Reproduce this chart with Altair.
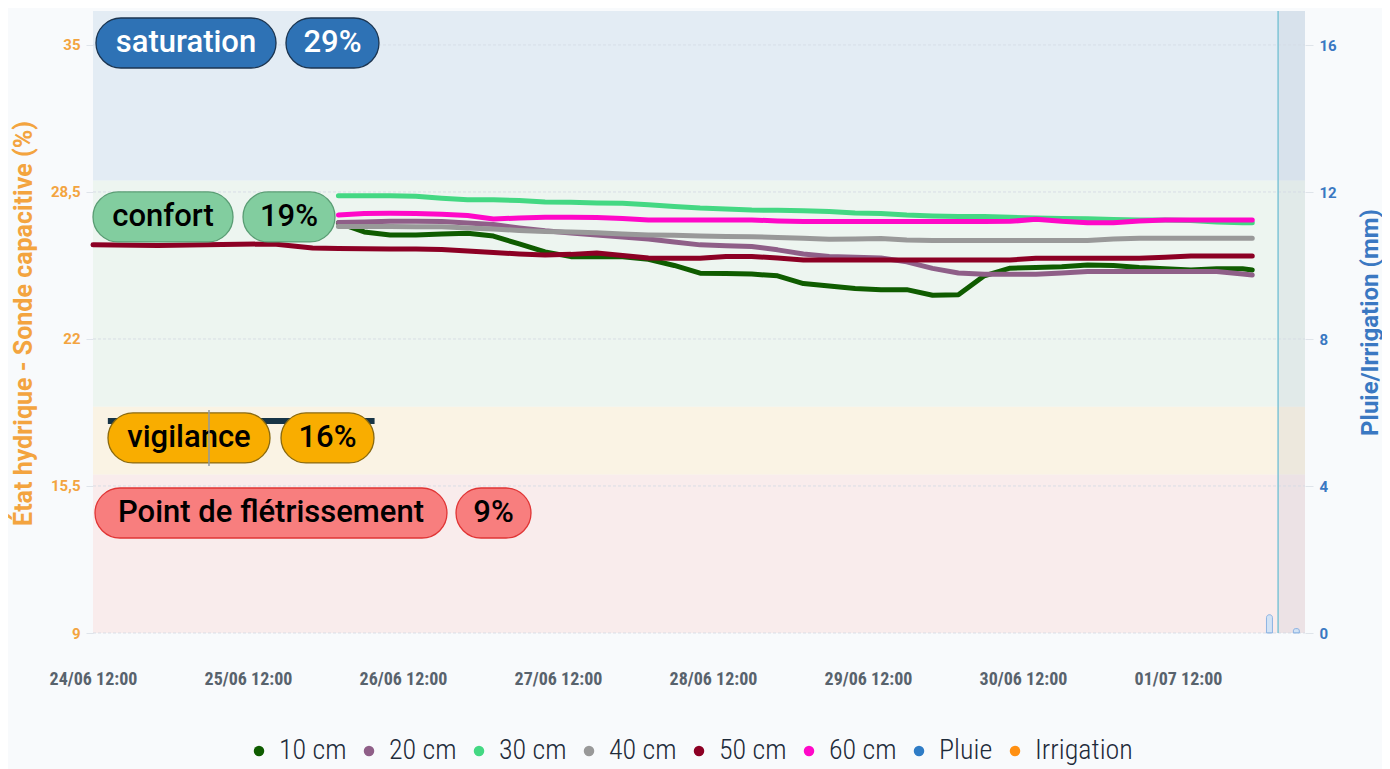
import altair as alt
import pandas as pd

# ---------------- data ----------------
T0 = "2024-06-24 12:00"
T_END = "2024-07-02 07:40"
x_ticks = ["2024-06-24 12:00", "2024-06-25 12:00", "2024-06-26 12:00", "2024-06-27 12:00",
           "2024-06-28 12:00", "2024-06-29 12:00", "2024-06-30 12:00", "2024-07-01 12:00"]
y_left_ticks = [9, 15.5, 22, 28.5, 35]
y_right_ticks = [0, 4, 8, 12, 16]
Y_LEFT = [9, 36.5]
Y_RIGHT = [0, 16.93]

series_names = ["10 cm", "20 cm", "30 cm", "40 cm", "50 cm", "60 cm", "Pluie", "Irrigation"]
series_colors = ["#0f5c00", "#8f5f88", "#44d883", "#999999", "#8c0024", "#ff08c8", "#2f7cc6", "#ff9012"]

grid_times = list(pd.date_range("2024-06-26 02:00", "2024-07-01 22:00", freq="4h")) + [pd.Timestamp("2024-07-01 23:30")]
early_times = ["2024-06-24 12:00", "2024-06-24 22:00", "2024-06-25 08:00", "2024-06-25 16:00", "2024-06-25 22:00"]

v10 = [27.13, 26.73, 26.60, 26.60, 26.64, 26.67, 26.55, 26.20, 25.85, 25.64,
       25.64, 25.63, 25.52, 25.25, 24.91, 24.89, 24.87, 24.79, 24.45, 24.34,
       24.23, 24.18, 24.18, 23.93, 23.95, 24.79, 25.13, 25.16, 25.19, 25.27,
       25.25, 25.16, 25.10, 25.05, 25.10, 25.10, 25.05]
v20 = [27.15, 27.17, 27.20, 27.20, 27.19, 27.13, 27.06, 26.91, 26.78, 26.69,
       26.60, 26.51, 26.42, 26.29, 26.16, 26.12, 26.09, 25.94, 25.76, 25.65,
       25.61, 25.58, 25.41, 25.12, 24.92, 24.86, 24.86, 24.86, 24.92, 24.98,
       24.98, 24.98, 24.98, 24.98, 24.98, 24.87, 24.83]
v30 = [28.33, 28.33, 28.33, 28.31, 28.22, 28.15, 28.15, 28.12, 28.06, 28.04,
       28.01, 28.00, 27.93, 27.86, 27.79, 27.75, 27.70, 27.69, 27.67, 27.63,
       27.57, 27.55, 27.48, 27.44, 27.41, 27.41, 27.38, 27.35, 27.33, 27.31,
       27.28, 27.26, 27.26, 27.24, 27.17, 27.14, 27.14]
v40 = [26.97, 26.97, 26.97, 26.96, 26.96, 26.91, 26.86, 26.80, 26.75, 26.73,
       26.70, 26.64, 26.60, 26.58, 26.55, 26.53, 26.52, 26.49, 26.45, 26.41,
       26.42, 26.44, 26.38, 26.35, 26.35, 26.35, 26.35, 26.35, 26.35, 26.35,
       26.42, 26.45, 26.45, 26.45, 26.45, 26.45, 26.45]
v50_early = [26.16, 26.13, 26.18, 26.20, 26.02]
v50 = [26.00, 25.99, 25.98, 25.98, 25.96, 25.89, 25.82, 25.76, 25.71, 25.74,
       25.80, 25.69, 25.58, 25.57, 25.57, 25.65, 25.65, 25.58, 25.49, 25.49,
       25.49, 25.49, 25.49, 25.49, 25.49, 25.49, 25.49, 25.57, 25.57, 25.57,
       25.57, 25.57, 25.61, 25.67, 25.67, 25.67, 25.67]
v60 = [27.48, 27.55, 27.56, 27.55, 27.51, 27.46, 27.30, 27.35, 27.38, 27.38,
       27.37, 27.33, 27.26, 27.26, 27.26, 27.26, 27.26, 27.22, 27.19, 27.19,
       27.19, 27.19, 27.19, 27.19, 27.19, 27.19, 27.20, 27.29, 27.20, 27.14,
       27.14, 27.22, 27.26, 27.26, 27.26, 27.26, 27.26]

rain_times = ["2024-07-02 02:10", "2024-07-02 06:20"]
rain_mm = [0.5, 0.12]
now_time = "2024-07-02 03:30"

band_lo = [29, 19, 16, 9]
band_hi = [36.5, 29, 19, 16]
band_colors = ["#e3ecf4", "#edf5f0", "#faf3e4", "#f9ecec"]

pill_labels = ["saturation", "29%", "confort", "19%", "vigilance", "16%", "Point de flétrissement", "9%"]
pill_start_h = [0.46, 29.88, 0.0, 23.23, 2.32, 29.11, 0.31, 56.21]
pill_end_h = [28.34, 44.28, 21.68, 37.47, 27.41, 43.51, 54.81, 67.82]
pill_lo = [33.98, 33.98, 26.29, 26.29, 16.52, 16.52, 13.20, 13.20]
pill_hi = [36.19, 36.19, 28.50, 28.50, 18.73, 18.73, 15.41, 15.41]
pill_fill = ["#2e72b5", "#2e72b5", "#82cd9f", "#82cd9f", "#f9ad00", "#f9ad00", "#f87e7e", "#f87e7e"]
pill_stroke = ["#1c3550", "#1c3550", "#5a9d74", "#5a9d74", "#8a6a10", "#8a6a10", "#e03535", "#e03535"]
pill_text = ["#ffffff", "#ffffff", "#000000", "#000000", "#000000", "#000000", "#000000", "#000000"]

# odd artefacts under the vigilance pills
bar_start_h, bar_end_h, bar_value = 2.3, 43.6, 18.37
vtick_h, vtick_lo, vtick_hi = 17.96, 16.38, 18.86

# ---------------- tables ----------------
t0 = pd.Timestamp(T0)
def at_hours(h):
    return t0 + pd.to_timedelta(h, unit="h")

def dt(s):
    ts = pd.Timestamp(s)
    return alt.DateTime(year=ts.year, month=ts.month, date=ts.day, hours=ts.hour, minutes=ts.minute)

rows = []
for name, vals in zip(series_names[:6], [v10, v20, v30, v40, v50, v60]):
    if name == "50 cm":
        for t, v in zip(early_times, v50_early):
            rows.append({"t": pd.Timestamp(t), "v": v, "serie": name})
    for t, v in zip(grid_times, vals):
        rows.append({"t": t, "v": v, "serie": name})
lines_df = pd.DataFrame(rows)

bands_df = pd.DataFrame({"t0": [pd.Timestamp(T0)] * 4, "t1": [pd.Timestamp(T_END)] * 4,
                         "lo": band_lo, "hi": band_hi, "color": band_colors})
future_df = pd.DataFrame({"t0": [pd.Timestamp(now_time)], "t1": [pd.Timestamp(T_END)],
                          "lo": [Y_LEFT[0]], "hi": [Y_LEFT[1]]})
grid_df = pd.DataFrame({"t0": [pd.Timestamp(T0)] * 5, "t1": [pd.Timestamp(T_END)] * 5, "v": y_left_ticks})
pill_df = pd.DataFrame({
    "t0": [at_hours(h) for h in pill_start_h], "t1": [at_hours(h) for h in pill_end_h],
    "tm": [at_hours((a + b) / 2) for a, b in zip(pill_start_h, pill_end_h)],
    "lo": pill_lo, "hi": pill_hi, "vm": [(a + b) / 2 for a, b in zip(pill_lo, pill_hi)],
    "label": pill_labels, "fill": pill_fill, "stroke": pill_stroke, "tcolor": pill_text})
darkbar_df = pd.DataFrame({"t0": [at_hours(bar_start_h)], "t1": [at_hours(bar_end_h)], "v": [bar_value]})
vtick_df = pd.DataFrame({"t": [at_hours(vtick_h)], "lo": [vtick_lo], "hi": [vtick_hi]})
now_df = pd.DataFrame({"t": [pd.Timestamp(now_time)] * 2, "v": Y_LEFT})
rain_df = pd.DataFrame({"t": [pd.Timestamp(t) for t in rain_times], "mm": rain_mm})
legend_df = pd.DataFrame({"t": [pd.Timestamp(T0)] * 8, "v": [0] * 8, "serie": series_names})

# ---------------- scales / axes ----------------
xs = alt.Scale(domain=[dt(T0), dt(T_END)], nice=False, padding=0)
ys = alt.Scale(domain=Y_LEFT, nice=False, zero=False)
yr = alt.Scale(domain=Y_RIGHT, nice=False, zero=False)
cs = alt.Scale(domain=series_names, range=series_colors)

COND = "Roboto Condensed, Liberation Sans Narrow, Roboto"
ORANGE = "#f3a43f"
BLUE = "#3a78c2"

x_axis = alt.Axis(values=[dt(s) for s in x_ticks], format="%d/%m %H:%M", labelFont=COND,
                  labelFontSize=18, labelFontWeight="bold", labelColor="#58636d",
                  labelPadding=37, ticks=False, tickSize=0, domain=False, grid=False,
                  labelFlush=False, labelOverlap=False, title=None)
y_axis = alt.Axis(values=y_left_ticks, format=".1~f", labelExpr="replace(datum.label, '.', ',')",
                  labelFont="Roboto", labelFontSize=15, labelFontWeight="bold", labelColor=ORANGE,
                  tickColor="#dfe4ea", tickSize=7, labelPadding=6, domain=False, grid=False,
                  title="État hydrique - Sonde capacitive (%)", titleColor=ORANGE, titleFont="Roboto",
                  titleFontSize=25, titleFontWeight="bold", titleX=-70, titleY=312, titleAngle=270,
                  titleBaseline="middle", titleAlign="center")
r_axis = alt.Axis(orient="right", values=y_right_ticks, labelFont="Roboto", labelFontSize=15,
                  labelFontWeight="bold", labelColor=BLUE, tickColor="#dfe4ea", tickSize=8,
                  labelPadding=6, domain=False, grid=False, title="Pluie/Irrigation (mm)",
                  titleColor=BLUE, titleFont="Roboto", titleFontSize=24, titleFontWeight="bold",
                  titleX=65, titleY=311, titleAngle=270, titleBaseline="middle", titleAlign="center")
legend = alt.Legend(
    title=None, orient="none", legendX=152, legendY=726, direction="horizontal",
    symbolType="circle", symbolSize=110, symbolStrokeWidth=0, labelFont=COND,
    labelFontSize=28, labelFontWeight=300, labelColor="#1e2b3a",
    columnPadding=8, labelOffset=6, columns=8)

X = lambda f: alt.X(f, scale=xs, axis=x_axis)
Y = lambda f: alt.Y(f, scale=ys, axis=y_axis)

# ---------------- layers ----------------
legend_layer = alt.Chart(legend_df).transform_filter("datum.v > 1000").mark_circle(opacity=1).encode(
    x=X("t:T"), y=Y("v:Q"), color=alt.Color("serie:N", scale=cs, legend=legend))

bands = alt.Chart(bands_df).mark_rect().encode(
    x=X("t0:T"), x2="t1:T", y=Y("lo:Q"), y2="hi:Q",
    fill=alt.Fill("color:N", scale=None))

future = alt.Chart(future_df).mark_rect(fill="#4a6a8a", opacity=0.07).encode(
    x=X("t0:T"), x2="t1:T", y=Y("lo:Q"), y2="hi:Q")

grid = alt.Chart(grid_df).mark_rule(color="#d3dae3", strokeDash=[3, 2], strokeWidth=1, opacity=0.8).encode(
    x=X("t0:T"), x2="t1:T", y=Y("v:Q"))

darkbar = alt.Chart(darkbar_df).mark_rule(color="#173446", strokeWidth=6).encode(
    x=X("t0:T"), x2="t1:T", y=Y("v:Q"))

lines = alt.Chart(lines_df).mark_line(strokeWidth=5, strokeCap="round", strokeJoin="round").encode(
    x=X("t:T"), y=Y("v:Q"),
    color=alt.Color("serie:N", scale=cs, legend=legend),
    order=alt.Order("t:T"))

pills = alt.Chart(pill_df).mark_rect(cornerRadius=25, strokeWidth=1.3).encode(
    x=X("t0:T"), x2="t1:T", y=Y("lo:Q"), y2="hi:Q",
    fill=alt.Fill("fill:N", scale=None), stroke=alt.Stroke("stroke:N", scale=None))

texts = alt.Chart(pill_df).mark_text(font="Roboto", fontSize=31, fontWeight=500,
                                     align="center", baseline="middle").encode(
    x=X("tm:T"), y=Y("vm:Q"), text="label:N", fill=alt.Fill("tcolor:N", scale=None))

vtick = alt.Chart(vtick_df).mark_rule(color="#8e9aa3", strokeWidth=1.5).encode(
    x=X("t:T"), y=Y("lo:Q"), y2="hi:Q")

nowline = alt.Chart(now_df).mark_line(color="#7ec4d6", strokeWidth=1.5).encode(
    x=X("t:T"), y=Y("v:Q"))

left = alt.layer(legend_layer, bands, future, grid, darkbar, lines, pills, texts, vtick, nowline)

rain = alt.Chart(rain_df).mark_bar(size=6, cornerRadiusTopLeft=3, cornerRadiusTopRight=3,
                                   fill="#d2e3f5", stroke="#8fb5e3", strokeWidth=1).encode(
    x=X("t:T"), y=alt.Y("mm:Q", scale=yr, axis=r_axis))

chart = alt.layer(left, rain).resolve_scale(y="independent").properties(
    width=1212, height=622,
    padding={"left": 85, "top": 3, "right": 77, "bottom": 136},
    autosize=alt.AutoSizeParams(type="none"),
    background="#f8fafc",
).configure_view(stroke=None)

chart.save("out.html", embed_options={"renderer": "svg", "actions": False})
